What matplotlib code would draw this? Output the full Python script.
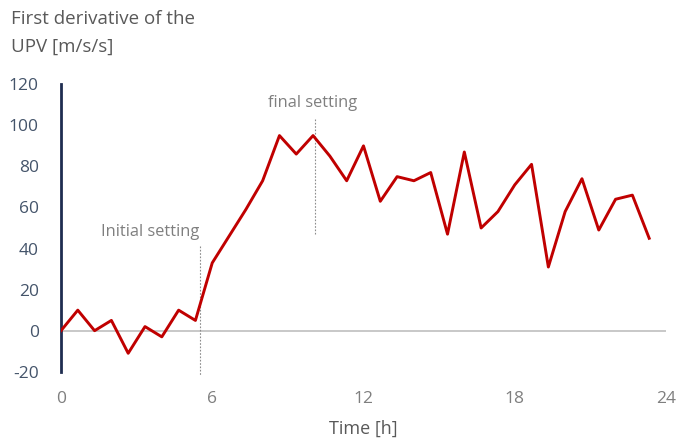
import numpy as np
import matplotlib
matplotlib.use("Agg")
from matplotlib import pyplot as plt

plt.rcParams['font.family'] = ['Open Sans', 'DejaVu Sans']
plt.rcParams['axes.unicode_minus'] = False

# samples every 40 minutes
time_h = [i * 2 / 3 for i in range(36)]
upv_deriv = [0, 10, 0, 5, -11, 2, -3, 10, 5, 33, 46, 59, 73, 95, 86, 95,
             85, 73, 90, 63, 75, 73, 77, 47, 87, 50, 58, 71, 81, 31,
             58, 74, 49, 64, 66, 45]

x_ticks = [0, 6, 12, 18, 24]
y_ticks = [-20, 0, 20, 40, 60, 80, 100, 120]

initial_t = 5.53
final_t = 10.06

fig = plt.figure(figsize=(6.76, 4.41), dpi=100)
ax = fig.add_axes([0.0902, 0.157, 0.895, 0.652])

ax.plot(time_h, upv_deriv, color='#C00000', lw=2.1, zorder=3)
ax.axhline(0, color='#BFBFBF', lw=1.2, zorder=1)

# setting markers
ax.plot([initial_t, initial_t], [41, -22], ls=(0, (1.5, 1.5)), color='#8C8C8C', lw=0.8, clip_on=False)
ax.text(3.55, 48, 'Initial setting', ha='center', va='center', color='#7F7F7F', fontsize=11.8)
ax.plot([final_t, final_t], [103, 47], ls=(0, (1.5, 1.5)), color='#8C8C8C', lw=0.8)
ax.text(10.0, 111, 'final setting', ha='center', va='center', color='#7F7F7F', fontsize=11.8)

ax.set_xlim(0, 24)
ax.set_ylim(-20, 120)
ax.set_xticks(x_ticks)
ax.set_yticks(y_ticks)
ax.tick_params(axis='x', length=0, pad=14, labelsize=12.5, labelcolor='#7F7F7F')
ax.tick_params(axis='y', length=0, pad=16, labelsize=12.5, labelcolor='#44546A')

for s in ['top', 'right', 'bottom']:
    ax.spines[s].set_visible(False)
ax.spines['left'].set_color('#1F2D50')
ax.spines['left'].set_linewidth(2)

ax.set_xlabel('Time [h]', color='#595959', fontsize=13, labelpad=9)
fig.text(0.017, 0.978, 'First derivative of the\nUPV [m/s/s]', ha='left', va='top',
         color='#595959', fontsize=13.5, linespacing=1.75)

fig.savefig('out.png', dpi=100)
